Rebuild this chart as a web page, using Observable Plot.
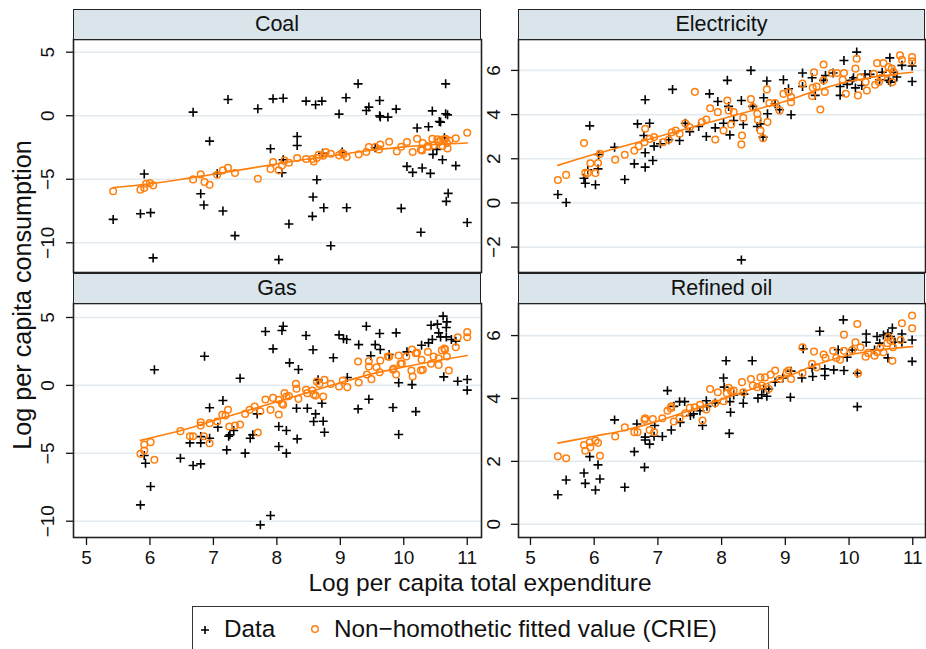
<!DOCTYPE html>
<html>
<head>
<meta charset="utf-8">
<script src="https://cdn.jsdelivr.net/npm/d3@7"></script>
<script src="https://cdn.jsdelivr.net/npm/@observablehq/plot@0.6"></script>
<style>
html, body { margin: 0; padding: 0; background: #fff; overflow: hidden; }
#chart { position: relative; width: 926px; height: 649px; font-family: "Liberation Sans", Arial, Helvetica, sans-serif; color: #111; overflow: hidden; }
.strip { position: absolute; box-sizing: border-box; background: #d9e5eb; border: 1.5px solid #222; display: flex; align-items: center; justify-content: center; font-size: 21.5px; color: #111; }
.panel { position: absolute; }
.xtitle { position: absolute; left: 80px; width: 800px; top: 571px; text-align: center; font-size: 24.5px; line-height: 23px; white-space: nowrap; }
.ytitle { position: absolute; left: -178px; width: 400px; top: 283px; height: 24px; text-align: center; font-size: 25.2px; line-height: 24px; white-space: nowrap; transform: rotate(-90deg); transform-origin: 50% 50%; }
.legend { position: absolute; left: 192px; top: 606px; width: 577px; height: 60px; box-sizing: border-box; border: 1.5px solid #333; background: #fff; }
.legend span { position: absolute; top: 10px; font-size: 24.3px; line-height: 24px; white-space: nowrap; }
.legend svg { position: absolute; }
</style>
</head>
<body>
<div id="chart"></div>
<script>
// ---------- data ----------
const panelTitles = ["Coal", "Electricity", "Gas", "Refined oil"];
const xTicks = [5, 6, 7, 8, 9, 10, 11];
const xLabel = "Log per capita total expenditure";
const yLabel = "Log per capita consumption";
const legendLabels = ["Data", "Non\u2212homothetic fitted value (CRIE)"];

const coalTicks = [-10, -5, 0, 5];
const elecTicks = [-2, 0, 2, 4, 6];
const gasTicks = [-10, -5, 0, 5];
const oilTicks = [0, 2, 4, 6];

const coalData = [[5.42,-8.16],[5.85,-7.71],[6.01,-7.63],[5.91,-4.59],[6.05,-11.19],[6.68,0.28],[6.80,-6.14],[6.85,-7.03],[6.94,-2.0],[7.23,1.28],[7.15,-7.5],[7.34,-9.44],[7.06,-4.56],[7.70,0.55],[7.94,1.33],[8.10,1.38],[7.90,-2.6],[8.32,-1.63],[8.32,-2.34],[8.08,-4.49],[8.10,-3.46],[8.19,-8.52],[8.03,-11.33],[8.46,1.15],[8.61,0.86],[8.71,1.15],[8.63,-5.04],[8.57,-6.4],[8.56,-7.92],[8.74,-7.24],[8.85,-10.23],[8.72,-2.95],[8.98,0.13],[9.09,1.41],[9.28,2.51],[9.41,0.41],[9.45,0.68],[9.62,1.2],[9.62,0.0],[9.63,-0.1],[9.75,-0.11],[9.88,0.52],[9.03,-2.86],[9.10,-7.24],[9.55,-2.52],[9.96,-7.29],[10.05,-3.99],[10.14,-4.46],[10.29,-4.12],[10.42,-4.54],[10.27,-9.17],[10.21,-0.97],[10.39,-0.87],[10.45,0.38],[10.46,-3.04],[10.52,-2.65],[10.56,-0.45],[10.58,-0.5],[10.66,2.51],[10.66,0.15],[10.69,0.07],[10.61,-3.46],[10.64,-1.73],[10.70,-6.11],[10.67,-6.74],[10.82,-3.93],[11.0,-8.41]];
const coalCrie = [[5.42,-5.95],[5.85,-5.82],[5.91,-5.69],[5.94,-5.35],[6.0,-5.3],[6.05,-5.48],[6.68,-5.01],[6.80,-4.62],[6.86,-5.22],[6.94,-5.43],[7.06,-4.64],[7.15,-4.30],[7.23,-4.09],[7.34,-4.51],[7.70,-4.96],[7.90,-4.2],[7.94,-3.65],[8.03,-4.3],[8.08,-3.91],[8.12,-3.52],[8.19,-3.7],[8.32,-3.33],[8.46,-3.41],[8.56,-3.41],[8.58,-3.6],[8.63,-3.33],[8.66,-3.07],[8.73,-3.15],[8.77,-2.86],[8.85,-2.99],[8.98,-3.12],[9.03,-2.94],[9.05,-3.04],[9.10,-3.25],[9.29,-3.04],[9.41,-2.86],[9.45,-2.47],[9.55,-2.47],[9.61,-2.65],[9.63,-2.26],[9.77,-2.05],[9.89,-2.81],[9.96,-2.44],[10.05,-2.07],[10.14,-2.86],[10.21,-1.81],[10.27,-2.68],[10.29,-2.73],[10.30,-2.15],[10.38,-2.39],[10.39,-2.44],[10.45,-1.81],[10.47,-2.34],[10.53,-1.86],[10.55,-2.08],[10.58,-1.94],[10.61,-2.39],[10.63,-1.86],[10.66,-1.81],[10.68,-2.15],[10.69,-2.57],[10.72,-1.95],[10.82,-1.78],[11.0,-1.34]];
const coalFitX = [5.42, 6, 6.5, 7, 7.5, 8, 8.5, 9, 9.5, 10, 10.5, 11];
const coalFitY = [-5.65, -5.35, -5.0, -4.6, -4.2, -3.8, -3.4, -3.05, -2.72, -2.45, -2.27, -2.15];

const elecData = [[5.43,0.38],[5.56,0.02],[5.84,1.12],[5.86,0.89],[6.02,0.82],[5.93,3.49],[5.90,1.5],[6.06,1.54],[6.07,2.19],[6.32,2.52],[6.48,1.06],[6.63,1.77],[6.80,1.62],[6.80,2.27],[6.80,4.67],[6.68,3.58],[6.87,3.61],[6.78,3.05],[6.92,1.92],[6.94,2.57],[7.04,2.68],[7.23,5.14],[7.17,2.86],[7.34,2.83],[7.43,3.61],[7.50,3.23],[7.64,3.46],[7.76,3.01],[7.81,4.94],[7.90,3.4],[7.94,4.59],[8.03,3.61],[8.09,5.55],[8.13,3.08],[8.11,4.37],[8.19,3.73],[8.31,4.64],[8.34,3.55],[8.31,-2.58],[8.46,6.0],[8.49,4.37],[8.56,3.46],[8.61,3.58],[8.65,2.98],[8.66,4.76],[8.71,5.52],[8.72,4.04],[8.84,4.49],[8.91,4.22],[8.97,5.58],[9.05,5.17],[9.09,3.99],[9.27,5.88],[9.27,5.27],[9.42,5.67],[9.47,4.87],[9.60,5.55],[9.63,5.77],[9.75,5.88],[9.86,5.27],[9.86,4.87],[9.92,6.45],[9.97,5.37],[10.05,5.55],[10.07,5.67],[10.10,5.21],[10.12,6.83],[10.20,5.32],[10.25,5.82],[10.33,5.82],[10.48,5.58],[10.52,5.92],[10.62,5.55],[10.65,5.47],[10.64,6.57],[10.70,5.92],[10.75,5.70],[10.83,6.23],[10.99,6.2],[10.99,5.5]];
const elecCrie = [[5.43,1.04],[5.56,1.27],[5.84,2.71],[5.86,1.36],[5.90,1.36],[5.94,1.8],[6.02,1.35],[6.06,1.81],[6.09,2.22],[6.33,1.96],[6.48,2.18],[6.63,2.37],[6.70,2.57],[6.79,2.75],[6.80,3.36],[6.87,2.90],[6.94,2.98],[7.08,2.75],[7.17,2.86],[7.22,3.20],[7.28,3.28],[7.34,3.13],[7.43,3.61],[7.50,3.43],[7.58,5.03],[7.69,3.66],[7.76,3.78],[7.82,4.29],[7.90,2.87],[7.94,4.11],[8.03,3.28],[8.09,4.64],[8.11,4.19],[8.15,3.55],[8.19,4.11],[8.32,3.05],[8.31,2.65],[8.34,3.85],[8.46,4.70],[8.49,4.34],[8.56,4.04],[8.57,3.76],[8.61,3.28],[8.65,2.93],[8.71,5.14],[8.72,3.66],[8.75,4.52],[8.84,4.52],[8.91,4.19],[8.97,4.94],[9.05,5.02],[9.09,4.79],[9.09,4.56],[9.27,5.40],[9.42,4.84],[9.43,5.21],[9.45,5.92],[9.49,5.27],[9.55,4.23],[9.60,6.27],[9.62,5.02],[9.60,5.55],[9.73,5.88],[9.81,5.88],[9.90,5.58],[9.92,5.88],[9.95,4.94],[10.10,6.08],[10.12,6.53],[10.14,4.87],[10.18,5.70],[10.26,5.47],[10.28,5.09],[10.39,5.85],[10.44,6.33],[10.41,5.35],[10.47,5.47],[10.51,5.67],[10.54,6.33],[10.60,5.85],[10.62,6.15],[10.67,6.08],[10.68,5.47],[10.70,5.92],[10.80,6.68],[10.83,6.48],[10.99,6.6],[10.99,6.41]];
const elecFitX = [5.43, 6, 6.5, 7, 7.5, 8, 8.5, 9, 9.5, 10, 10.5, 11];
const elecFitY = [1.7, 2.2, 2.6, 3.0, 3.4, 3.8, 4.2, 4.6, 5.1, 5.5, 5.75, 5.92];

const gasData = [[5.85,-8.8],[6.01,-7.45],[5.93,-5.73],[5.91,-5.16],[6.07,1.15],[6.48,-5.36],[6.63,-4.23],[6.68,-5.90],[6.80,-5.78],[6.80,-4.23],[6.86,2.15],[6.80,-3.77],[6.94,-1.65],[6.94,-3.89],[7.07,-3.08],[7.15,-1.11],[7.21,-4.75],[7.24,-3.74],[7.26,-3.64],[7.32,-3.32],[7.42,0.53],[7.50,-4.99],[7.58,-3.89],[7.62,-3.64],[7.69,-2.1],[7.82,3.97],[7.74,-10.27],[7.90,-9.58],[7.94,2.69],[8.03,-3.03],[8.03,-4.5],[8.08,4.04],[8.10,4.36],[8.15,-3.32],[8.15,-4.99],[8.2,1.66],[8.31,-1.68],[8.32,-3.94],[8.34,1.17],[8.46,3.67],[8.48,-1.68],[8.57,2.62],[8.58,-2.66],[8.61,-2.1],[8.73,-2.64],[8.75,-3.45],[8.71,-1.31],[8.65,0.41],[8.89,2.03],[8.98,3.72],[9.05,3.43],[9.10,3.38],[9.41,4.36],[9.62,3.82],[9.88,3.87],[9.29,3.0],[9.55,3.0],[9.63,2.64],[9.48,2.18],[9.77,2.27],[10.05,2.47],[10.28,2.96],[10.39,3.13],[10.45,3.38],[10.43,4.43],[10.53,4.51],[10.62,5.1],[10.68,4.68],[10.67,4.26],[10.55,3.87],[10.58,3.57],[10.67,3.57],[10.75,3.38],[10.82,3.26],[9.11,0.58],[9.92,0.19],[10.13,0.06],[10.63,0.63],[10.85,0.31],[11.0,0.43],[11.0,-0.35],[9.45,-1.02],[9.28,-1.73],[9.83,-1.63],[10.19,-1.93],[9.92,-3.62]];
const gasCrie = [[5.85,-5.04],[5.91,-4.8],[5.91,-4.35],[6.01,-4.18],[6.07,-5.48],[6.48,-3.37],[6.63,-3.74],[6.68,-3.74],[6.80,-2.95],[6.80,-2.71],[6.85,-3.74],[6.94,-4.26],[6.94,-2.78],[7.06,-2.66],[7.14,-2.17],[7.19,-2.22],[7.23,-1.8],[7.25,-3.03],[7.34,-2.95],[7.42,-2.88],[7.50,-2.1],[7.57,-1.8],[7.65,-1.56],[7.70,-3.47],[7.74,-1.9],[7.82,-1.04],[7.90,-1.8],[7.94,-0.92],[8.03,-1.06],[8.03,-2.14],[8.08,-1.36],[8.10,-1.43],[8.12,-0.57],[8.15,-0.82],[8.19,-0.79],[8.30,0.11],[8.31,-0.25],[8.34,-0.99],[8.46,-0.33],[8.48,-0.57],[8.56,-0.38],[8.58,-0.67],[8.61,-0.75],[8.73,-0.82],[8.63,0.29],[8.67,0.11],[8.75,0.41],[8.85,0.11],[8.98,-0.08],[9.04,0.36],[9.11,-0.13],[9.28,1.76],[9.29,0.21],[9.45,1.78],[9.45,1.39],[9.49,0.46],[9.42,0.8],[9.57,1.34],[9.63,1.83],[9.62,0.97],[9.75,2.13],[9.83,1.15],[9.88,0.8],[9.92,2.2],[9.95,1.59],[10.04,2.13],[10.12,1.1],[10.14,0.65],[10.13,2.64],[10.19,2.37],[10.28,1.88],[10.30,1.15],[10.38,2.47],[10.43,1.59],[10.47,2.13],[10.55,2.0],[10.55,1.51],[10.60,2.59],[10.65,2.64],[10.68,2.13],[10.71,1.1],[10.82,2.81],[10.85,3.55],[11.0,3.92],[11.0,3.55],[10.21,2.40],[10.27,1.12],[10.64,2.72],[9.77,2.1],[9.84,1.24],[9.97,1.61]];
const gasFitX = [5.85, 6.5, 7, 7.5, 8, 8.5, 9, 9.5, 10, 10.5, 11];
const gasFitY = [-4.05, -3.3, -2.6, -1.9, -1.2, -0.5, 0.2, 0.85, 1.35, 1.8, 2.2];

const oilData = [[5.43,0.94],[5.56,1.41],[5.84,1.63],[5.86,1.30],[5.93,2.15],[6.02,1.09],[6.06,1.89],[6.09,1.44],[6.32,3.32],[6.48,1.18],[6.63,2.31],[6.67,3.19],[6.79,1.81],[6.80,2.68],[6.80,2.77],[6.87,2.55],[6.94,2.80],[6.95,3.14],[7.07,2.79],[7.15,4.25],[7.21,3.0],[7.25,3.75],[7.34,3.9],[7.35,3.24],[7.42,3.9],[7.51,3.46],[7.56,3.51],[7.66,3.61],[7.70,3.14],[7.76,3.93],[7.77,3.75],[7.90,3.86],[8.03,4.65],[8.04,4.36],[8.07,5.20],[8.13,3.9],[8.14,3.56],[8.12,2.89],[8.19,4.11],[8.34,3.85],[8.35,4.14],[8.48,5.2],[8.57,4.01],[8.63,4.12],[8.66,4.30],[8.71,4.07],[8.74,4.30],[8.84,4.52],[8.96,4.65],[9.08,4.04],[9.09,4.87],[9.26,4.65],[9.28,5.58],[9.42,4.97],[9.43,4.70],[9.54,6.14],[9.62,4.73],[9.62,4.94],[9.76,4.91],[9.83,5.55],[9.91,6.50],[9.92,4.89],[9.97,5.31],[10.05,5.54],[10.13,3.74],[10.13,4.80],[10.27,6.05],[10.27,5.79],[10.40,5.54],[10.44,5.97],[10.48,5.76],[10.54,6.02],[10.61,6.07],[10.61,5.29],[10.65,5.97],[10.68,6.24],[10.72,5.79],[10.83,6.05],[10.83,5.79],[10.99,5.86],[10.99,5.18]];
const oilCrie = [[5.43,2.16],[5.56,2.10],[5.84,2.52],[5.86,2.34],[5.93,2.61],[5.94,2.45],[6.02,2.66],[6.06,2.59],[6.09,2.18],[6.33,2.79],[6.48,3.08],[6.63,2.93],[6.68,2.93],[6.79,3.32],[6.80,3.37],[6.87,3.0],[6.92,3.35],[6.94,2.93],[7.07,3.37],[7.15,3.61],[7.20,3.69],[7.21,3.75],[7.25,3.27],[7.34,3.37],[7.43,3.53],[7.50,3.70],[7.58,3.72],[7.66,3.80],[7.70,3.30],[7.76,3.65],[7.82,4.30],[7.90,3.85],[7.94,4.20],[8.03,3.91],[8.08,4.17],[8.11,4.34],[8.15,4.23],[8.19,4.25],[8.32,4.52],[8.34,4.20],[8.46,4.62],[8.49,4.41],[8.56,4.36],[8.61,4.67],[8.63,4.41],[8.68,4.67],[8.74,4.30],[8.77,4.76],[8.84,4.89],[8.91,4.62],[9.02,4.83],[9.05,4.89],[9.09,4.62],[9.27,5.63],[9.27,4.81],[9.42,5.10],[9.45,5.49],[9.49,4.99],[9.60,5.40],[9.63,5.29],[9.75,5.52],[9.80,5.29],[9.86,5.23],[9.92,6.03],[9.92,5.52],[10.05,5.54],[10.10,5.79],[10.13,6.37],[10.14,4.80],[10.18,5.63],[10.26,5.33],[10.30,5.45],[10.40,5.36],[10.44,5.47],[10.49,5.61],[10.54,5.47],[10.60,5.76],[10.62,5.95],[10.65,5.84],[10.68,5.20],[10.69,5.63],[10.83,6.39],[10.81,5.86],[10.99,6.64],[10.99,6.23]];
const oilFitX = [5.43, 6, 6.5, 7, 7.5, 8, 8.5, 9, 9.5, 10, 10.5, 11];
const oilFitY = [2.58, 2.8, 3.0, 3.28, 3.62, 3.97, 4.32, 4.68, 5.08, 5.38, 5.55, 5.65];

// ---------- layout ----------
const ORANGE = "#ff7f0e";
const INK = "#111";
const cols = [{left: 73, right: 481, xDomain: [4.795, 11.225]}, {left: 518, right: 925, xDomain: [4.812, 11.2]}];
const rows = [{top: 39, bottom: 272}, {top: 303, bottom: 537}];
const fmt = d => d < 0 ? "\u2212" + Math.abs(d) : String(d);
const chart = document.getElementById("chart");

const panels = [
  {title: panelTitles[0], data: coalData, crie: coalCrie, fx: coalFitX, fy: coalFitY, ticks: coalTicks, yDomain: [-12.34, 6.0], col: 0, row: 0, ydx: -26},
  {title: panelTitles[1], data: elecData, crie: elecCrie, fx: elecFitX, fy: elecFitY, ticks: elecTicks, yDomain: [-3.15, 7.4], col: 1, row: 0, ydx: -25},
  {title: panelTitles[2], data: gasData, crie: gasCrie, fx: gasFitX, fy: gasFitY, ticks: gasTicks, yDomain: [-11.2, 6.03], col: 0, row: 1, ydx: -26},
  {title: panelTitles[3], data: oilData, crie: oilCrie, fx: oilFitX, fy: oilFitY, ticks: oilTicks, yDomain: [-0.42, 7.02], col: 1, row: 1, ydx: -25}
];

for (const p of panels) {
  const col = cols[p.col], row = rows[p.row];
  const bottomRow = p.row === 1;
  const mL = 60, mR = 6, mT = 6, mB = bottomRow ? 48 : 6;
  const w = col.right - col.left, h = row.bottom - row.top;
  const fit = p.fx.map((x, i) => ({x, y: p.fy[i]}));
  const marks = [
    Plot.gridY(p.ticks, {stroke: "#e3ebf0", strokeOpacity: 1, strokeWidth: 1.6}),
    Plot.axisY({ticks: p.ticks, tickSize: 7, tickFormat: () => "", label: null, stroke: INK, strokeWidth: 1.3}),
    Plot.text(p.ticks, {y: d => d, frameAnchor: "left", text: d => fmt(d), rotate: -90, dx: p.ydx, fontSize: 19, fill: INK, textAnchor: "middle", lineAnchor: "middle"}),
    Plot.dot(p.data, {x: d => d[0], y: d => d[1], symbol: "plus", r: 3.0, stroke: "#000", strokeWidth: 1.6}),
    Plot.dot(p.crie, {x: d => d[0], y: d => d[1], symbol: "circle", r: 3.3, stroke: ORANGE, strokeWidth: 1.5, fill: "none"}),
    Plot.line(fit, {x: "x", y: "y", stroke: ORANGE, strokeWidth: 1.6, curve: "catmull-rom"}),
    Plot.frame({stroke: "#222", strokeWidth: 1.6})
  ];
  if (bottomRow) {
    marks.push(Plot.axisX({ticks: xTicks, tickSize: 8, tickPadding: 5, fontSize: 19, tickFormat: fmt, label: null, stroke: INK, strokeWidth: 1.3, fill: INK}));
  }
  const svg = Plot.plot({
    width: w + mL + mR,
    height: h + mT + mB,
    marginLeft: mL, marginRight: mR, marginTop: mT, marginBottom: mB,
    x: {domain: col.xDomain, axis: null},
    y: {domain: p.yDomain, axis: null},
    style: {fontFamily: '"Liberation Sans", Arial, sans-serif', background: "transparent", overflow: "visible", color: INK},
    marks
  });
  svg.classList.add("panel");
  svg.style.position = "absolute";
  svg.style.left = (col.left - mL) + "px";
  svg.style.top = (row.top - mT) + "px";
  chart.appendChild(svg);

  const strip = document.createElement("div");
  strip.className = "strip";
  strip.style.left = col.left + "px";
  strip.style.width = w + "px";
  strip.style.top = (row.top - 30) + "px";
  strip.style.height = "31px";
  strip.textContent = p.title;
  chart.appendChild(strip);
}

const xt = document.createElement("div");
xt.className = "xtitle";
xt.textContent = xLabel;
chart.appendChild(xt);

const yt = document.createElement("div");
yt.className = "ytitle";
yt.textContent = yLabel;
chart.appendChild(yt);

const lg = document.createElement("div");
lg.className = "legend";
lg.innerHTML = `
  <svg width="12" height="12" style="left:6px;top:17px" viewBox="-6 -6 12 12"><path d="M-4,0H4M0,-4V4" stroke="#000" stroke-width="1.6" fill="none"/></svg>
  <span style="left:31px">${legendLabels[0]}</span>
  <svg width="12" height="12" style="left:116px;top:16px" viewBox="-6 -6 12 12"><circle r="3.3" stroke="${ORANGE}" stroke-width="1.5" fill="none"/></svg>
  <span style="left:141px">${legendLabels[1]}</span>`;
chart.appendChild(lg);
</script>
</body>
</html>
